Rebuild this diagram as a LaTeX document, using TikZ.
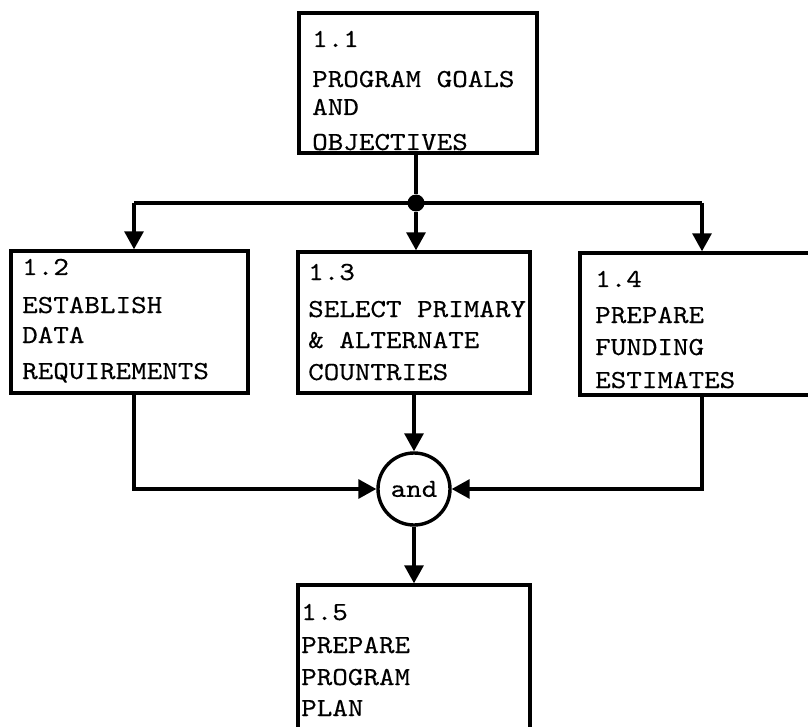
\documentclass[tikz,border=0pt]{standalone}
\usepackage{fontspec}
\usetikzlibrary{arrows.meta}
% typewriter face for all labels
\newfontfamily\tw{lmmono10-regular.otf}[FakeStretch=1.14,FakeBold=0.3]
\begin{document}
\begin{tikzpicture}[x=1pt,y=-1pt,
  box/.style={draw,line width=3.4pt,rectangle,inner sep=0pt},
  txt/.style={anchor=base west,inner sep=0pt,font=\fontsize{26}{30}\tw},
  link/.style={line width=3.2pt},
  arr/.style={line width=3.2pt,-{Triangle[length=18pt,width=19pt]}}]
\useasboundingbox (0,0) rectangle (808,727);
\clip (0,0) rectangle (808,727);

% process boxes
\node[box,minimum width=238pt,minimum height=140pt] (b11) at (418,83) {};
\node[box,minimum width=237pt,minimum height=142pt] (b12) at (129.5,322) {};
\node[box,minimum width=232pt,minimum height=141pt] (b13) at (414,322.5) {};
\node[box,minimum width=250pt,minimum height=142pt] (b14) at (705,324) {};
\node[box,minimum width=232pt,minimum height=180pt] (b15) at (414,675) {};

% box texts
\node[txt] (t11a) at (312,47)  {1.1};
\node[txt] (t11b) at (312,87)  {PROGRAM GOALS};
\node[txt] (t11c) at (312,115) {AND};
\node[txt] (t11d) at (312,150) {OBJECTIVES};

\node[txt] (t12a) at (22,275) {1.2};
\node[txt] (t12b) at (22,313) {ESTABLISH};
\node[txt] (t12c) at (22,343) {DATA};
\node[txt] (t12d) at (22,379) {REQUIREMENTS};

\node[txt] (t13a) at (308,280) {1.3};
\node[txt] (t13b) at (308,317) {SELECT PRIMARY};
\node[txt] (t13c) at (308,348) {\& ALTERNATE};
\node[txt] (t13d) at (308,380) {COUNTRIES};

\node[txt] (t14a) at (595,287) {1.4};
\node[txt] (t14b) at (595,323) {PREPARE};
\node[txt] (t14c) at (595,355) {FUNDING};
\node[txt] (t14d) at (595,388) {ESTIMATES};

\node[txt] (t15a) at (301,620) {1.5};
\node[txt] (t15b) at (301,653) {PREPARE};
\node[txt] (t15c) at (301,685) {PROGRAM};
\node[txt] (t15d) at (301,716) {PLAN};

% junction and "and" gate
\node[circle,fill,inner sep=0pt,minimum size=17pt] (dot) at (416,203) {};
\node[circle,draw,line width=3.4pt,inner sep=0pt,minimum size=72pt,
      font=\fontsize{26}{30}\tw] (and) at (414,489) {and};
\coordinate (c12) at (134,203);
\coordinate (c14) at (702,203);

% fan-out from 1.1
\draw[link] (b11.south -| dot) -- (dot);
\draw[link] (c12) -- (c14);
\draw[arr] (c12) -- (c12 |- b12.north);
\draw[arr] (dot) -- (dot |- b13.north);
\draw[arr] (c14) -- (c14 |- b14.north);

% fan-in to the gate and on to 1.5
\draw[arr] (b12.south -| c12) |- (and.west);
\draw[arr] (b14.south -| c14) |- (and.east);
\draw[arr] (b13.south -| and) -- (and.north);
\draw[arr] (and.south) -- (b15.north -| and);
\end{tikzpicture}
\end{document}
